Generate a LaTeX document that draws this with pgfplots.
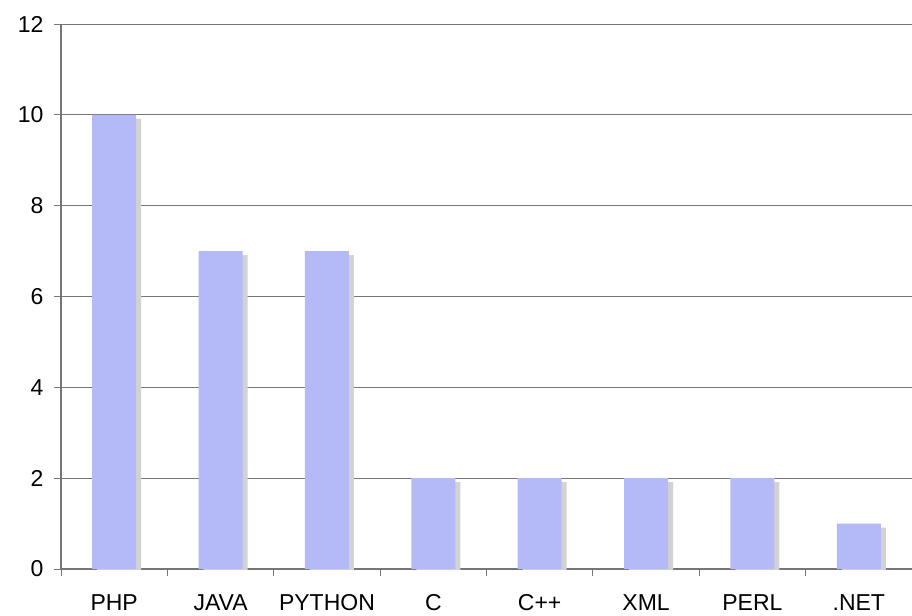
\documentclass[border=0pt]{standalone}
\usepackage{fontspec}
\setmainfont{Liberation Sans}
\usepackage{pgfplots}
\pgfplotsset{compat=1.18}
\definecolor{barblue}{RGB}{179,186,247}
\definecolor{shadowgray}{RGB}{210,210,210}
\definecolor{gridgray}{RGB}{118,118,118}
\begin{document}
\begin{tikzpicture}
\begin{axis}[
  scale only axis, width=851pt, height=545pt,
  xmin=-0.5, xmax=7.5, ymin=0, ymax=12,
  axis lines=left, axis line style={-, draw=gridgray, line width=1.2pt},
  ybar, bar width=44pt, bar shift=0pt,
  ytick={0,2,...,12}, ymajorgrids,
  major grid style={draw=gridgray, line width=0.9pt},
  xtick={0,...,7}, xticklabels={PHP,JAVA,PYTHON,C,C++,XML,PERL,.NET},
  minor xtick={-0.5,0.5,...,7.5},
  major x tick style={draw=none},
  tick style={draw=gridgray, line width=0.9pt},
  tick align=outside, major tick length=7pt, minor tick length=7pt,
  ticklabel style={font=\fontsize{23}{27}\selectfont},
  /pgf/number format/assume math mode=true,
  xticklabel style={yshift=-14.5pt, text height=16.5pt, text depth=0pt},
  yticklabel style={xshift=-7pt},
]
\addplot[fill=shadowgray, draw=none, xshift=5pt, yshift=-4pt] coordinates
  {(0,10)(1,7)(2,7)(3,2)(4,2)(5,2)(6,2)(7,1)};
\addplot[fill=barblue, draw=none] coordinates
  {(0,10)(1,7)(2,7)(3,2)(4,2)(5,2)(6,2)(7,1)};
\coordinate (sw) at (rel axis cs:0,0);
\coordinate (ne) at (rel axis cs:1,1);
\end{axis}
\pgfresetboundingbox
\path ([shift={(-61pt,-46pt)}]sw) rectangle ([shift={(0pt,24pt)}]ne);
\end{tikzpicture}
\end{document}
